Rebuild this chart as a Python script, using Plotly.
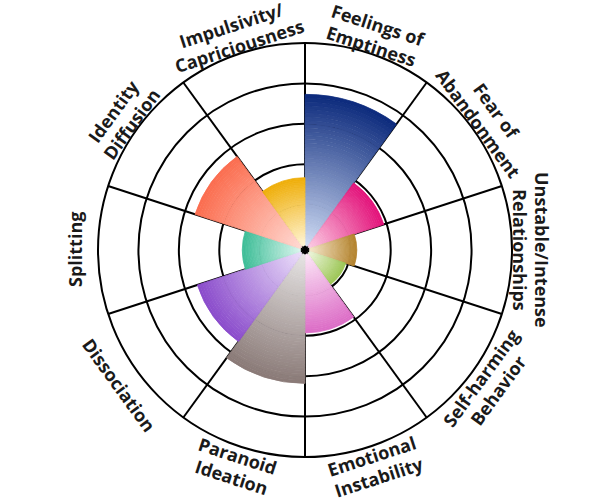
import math
import plotly.graph_objects as go

# ---- data ----
categories = ["Feelings of Emptiness", "Fear of Abandonment", "Unstable/Intense Relationships",
              "Self-harming Behavior", "Emotional Instability", "Paranoid Ideation",
              "Dissociation", "Splitting", "Identity Diffusion", "Impulsivity/Capriciousness"]
label_lines = [["Feelings of", "Emptiness"], ["Fear of", "Abandonment"],
               ["Unstable/Intense", "Relationships"], ["Self-harming", "Behavior"],
               ["Emotional", "Instability"], ["Paranoid", "Ideation"], ["Dissociation"],
               ["Splitting"], ["Identity", "Diffusion"], ["Impulsivity/", "Capriciousness"]]
values = [3.73, 1.93, 1.16, 0.94, 1.93, 3.18, 2.68, 1.43, 2.74, 1.67]
outer_colors = ["#0c2a7c", "#e3127a", "#b3822c", "#9cc655", "#dc6cc6",
                "#8a7a77", "#8a4bcb", "#3dbd97", "#fb6d4f", "#efae08"]
inner_colors = ["#d0dcf4", "#fbcbe3", "#f5e8cc", "#eef6dd", "#fce7f7",
                "#e6e4e4", "#ebdffa", "#dbf6ee", "#ffdad3", "#fff5d6"]
ring_ticks = [1, 2, 3, 4, 5]

N_SEG = 40  # number of gradient slices per bar


def hex_to_rgb(h):
    h = h.lstrip("#")
    return tuple(int(h[i:i + 2], 16) for i in (0, 2, 4))


def lerp(c1, c2, t):
    a, b = hex_to_rgb(c1), hex_to_rgb(c2)
    return "rgb(%d,%d,%d)" % tuple(round(a[k] + (b[k] - a[k]) * t) for k in range(3))


n = len(categories)
step = 360 / n
thetas, bases, rs, cols = [], [], [], []
for i, v in enumerate(values):
    th = step / 2 + step * i
    for j in range(N_SEG):
        thetas.append(th)
        bases.append(v * j / N_SEG)
        rs.append(v / N_SEG)
        cols.append(lerp(inner_colors[i], outer_colors[i], (j + 0.5) / N_SEG))

fig = go.Figure()
fig.add_trace(go.Barpolar(
    theta=thetas, r=rs, base=bases, width=step,
    marker=dict(color=cols, line=dict(color=cols, width=0.8)),
    hoverinfo="skip", showlegend=False,
))

W, H = 610, 500
CX, CY, R = 305, 250, 207

fig.update_layout(
    width=W, height=H,
    margin=dict(l=0, r=0, t=0, b=0),
    paper_bgcolor="white",
    showlegend=False,
    hovermode=False,
    polar=dict(
        domain=dict(x=[(CX - R) / W, (CX + R) / W], y=[(H - CY - R) / H, (H - CY + R) / H]),
        bgcolor="white",
        bargap=0,
        radialaxis=dict(range=[-0.12, 5], tickvals=ring_ticks, showticklabels=False, ticks="",
                        showline=False, gridcolor="black", gridwidth=2, layer="above traces"),
        angularaxis=dict(rotation=90, direction="clockwise",
                         tickvals=[step * k for k in range(n)], showticklabels=False, ticks="",
                         gridcolor="black", gridwidth=2, showline=True, linecolor="black",
                         linewidth=2, layer="above traces"),
    ),
)

annotations = []
for i, lines in enumerate(label_lines):
    th = step / 2 + step * i
    bottom = 90 < th < 270
    if bottom:
        rot = th - 180
    elif th >= 270:
        rot = th - 360
    else:
        rot = th
    if len(lines) == 1:
        radii = [230]
    elif bottom:
        radii = [217, 239]
    else:
        radii = [237, 215]
    for txt, rr in zip(lines, radii):
        px = CX + rr * math.sin(math.radians(th))
        py = CY - rr * math.cos(math.radians(th))
        annotations.append(dict(
            x=px / W, y=1 - py / H, xref="paper", yref="paper", text=txt,
            showarrow=False, textangle=rot, xanchor="center", yanchor="middle",
            font=dict(family="Open Sans", size=18, color="#1a1a1a", weight="bold"),
        ))
fig.update_layout(annotations=annotations)

fig.write_html("out.html", config={"displayModeBar": False},
               post_script="document.body.style.margin='0';document.body.style.overflow='hidden';")
